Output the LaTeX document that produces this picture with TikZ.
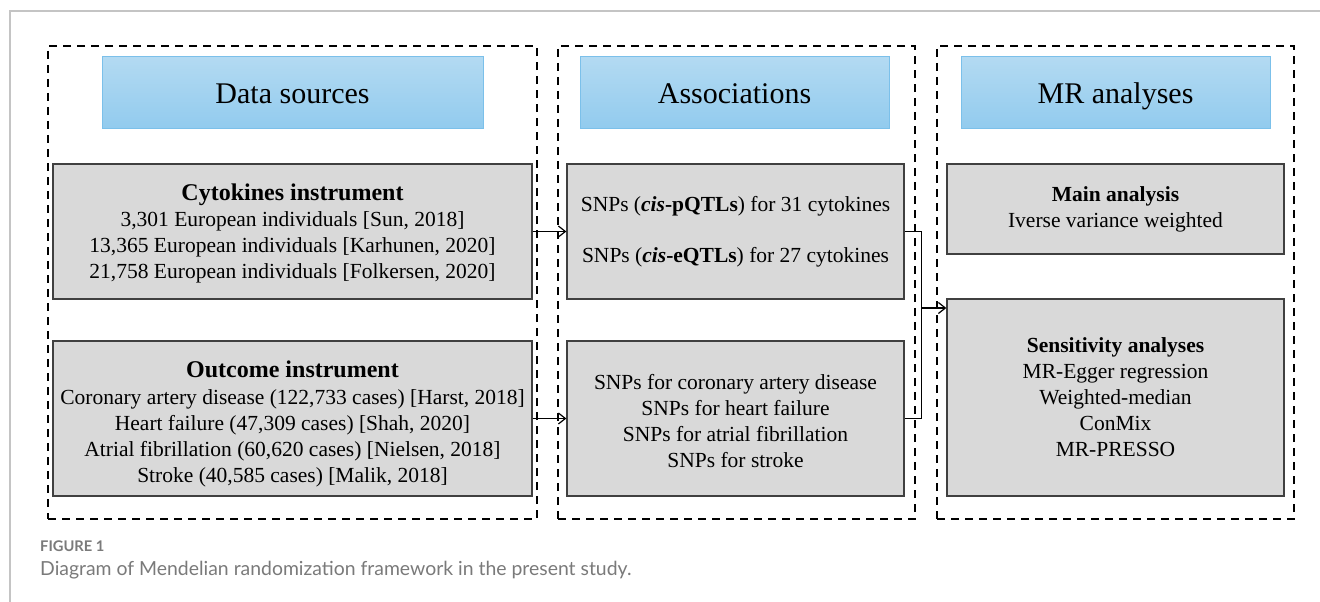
\documentclass[tikz,border=0pt]{standalone}
\usepackage{fontspec}
\setmainfont{Liberation Serif}
\newfontfamily\capfont{Lato}
\usetikzlibrary{arrows.meta}
\definecolor{hdrtop}{HTML}{B3DAF2}
\definecolor{hdrbot}{HTML}{92CBEE}
\definecolor{hdredge}{HTML}{7BC0EA}
\definecolor{boxfill}{HTML}{D9D9D9}
\definecolor{boxedge}{HTML}{404040}
\definecolor{capgray}{HTML}{7A7A7A}
\definecolor{framegray}{HTML}{C4C4C4}
\newcommand{\bigttl}{\fontsize{24}{26}\selectfont\bfseries}
\begin{document}
\begin{tikzpicture}[x=1pt,y=-1pt,
  panel/.style={draw=black, line width=2pt, dash pattern=on 8pt off 6pt, inner sep=0pt},
  header/.style={draw=hdredge, line width=1pt, top color=hdrtop, bottom color=hdrbot, inner sep=0pt, minimum height=71pt, text height=21pt, text depth=0pt, font=\fontsize{30}{36}\selectfont},
  graybox/.style={draw=boxedge, line width=1.3pt, fill=boxfill, inner sep=0pt, align=center, font=\fontsize{21.5}{26}\selectfont},
  conn/.style={line width=1.2pt, -{Straight Barb[length=7pt,width=11pt,line width=1.2pt]}},
  link/.style={line width=1.5pt},
  figlab/.style={anchor=west, inner sep=0pt, text=capgray, font=\capfont\bfseries\fontsize{14.7}{17}\selectfont},
  captext/.style={anchor=west, inner sep=0pt, text=capgray, font=\capfont\fontsize{19.4}{22}\selectfont}
]
\useasboundingbox (0,0) rectangle (1320,602);
\fill[white] (0,0) rectangle (1320,602);
\draw[framegray, line width=1.5pt] (10,602) -- (10,11) -- (1320,11);

% panels
\node[panel, minimum width=489pt, minimum height=473pt] (p1) at (292.5,282.5) {};
\node[panel, minimum width=357pt, minimum height=473pt] (p2) at (736.5,282.5) {};
\node[panel, minimum width=357pt, minimum height=473pt] (p3) at (1115.5,282.5) {};

% headers
\node[header, minimum width=381pt] (hds) at (292.5,92.5) {Data sources};
\node[header, minimum width=309pt] (has) at (734.5,92.5) {Associations};
\node[header, minimum width=309pt] (hmr) at (1115.5,92.5) {MR analyses};

% boxes
\node[graybox, minimum width=479pt, minimum height=135pt] (cyto) at (292.5,231.5)
  {{\bigttl\rule{0pt}{21pt}Cytokines instrument}\\
   3,301 European individuals [Sun, 2018]\\
   13,365 European individuals [Karhunen, 2020]\\
   21,758 European individuals [Folkersen, 2020]};
\node[graybox, minimum width=479pt, minimum height=155pt] (outc) at (292.5,418.5)
  {{\bigttl\rule{0pt}{27pt}Outcome instrument}\\[1pt]
   Coronary artery disease (122,733 cases) [Harst, 2018]\\
   Heart failure (47,309 cases) [Shah, 2020]\\
   Atrial fibrillation (60,620 cases) [Nielsen, 2018]\\
   Stroke (40,585 cases) [Malik, 2018]};
\node[graybox, minimum width=337pt, minimum height=135pt, font=\fontsize{21.5}{27}\selectfont] (snp1) at (735.5,231.5)
  {SNPs (\textbf{\textit{cis}-pQTLs}) for 31 cytokines\\[24pt]
   SNPs (\textbf{\textit{cis}-eQTLs}) for 27 cytokines};
\node[graybox, minimum width=337pt, minimum height=155pt] (snp2) at (735.5,418.5)
  {\rule{0pt}{20pt}SNPs for coronary artery disease\\
   SNPs for heart failure\\
   SNPs for atrial fibrillation\\
   SNPs for stroke};
\node[graybox, minimum width=337pt, minimum height=90pt] (main) at (1115.5,209)
  {\textbf{Main analysis}\\
   Iverse variance weighted};
\node[graybox, minimum width=337pt, minimum height=197pt] (sens) at (1115.5,397.5)
  {\textbf{Sensitivity analyses}\\
   MR-Egger regression\\
   Weighted-median\\
   ConMix\\
   MR-PRESSO};

% connectors
\draw[conn] (cyto.east) -- (snp1.west);
\draw[conn] (outc.east) -- (snp2.west);
\draw[link] (snp1.east) -- ++(17,0) coordinate (bt) |- (snp2.east);
\coordinate (jn) at (921,308);
\draw[conn] (jn) -- (jn -| sens.west);

% caption
\node[figlab] (figlabel) at (40,546) {FIGURE 1};
\node[captext] (caption) at (40,570) {Diagram of Mendelian randomization framework in the present study.};
\end{tikzpicture}
\end{document}
